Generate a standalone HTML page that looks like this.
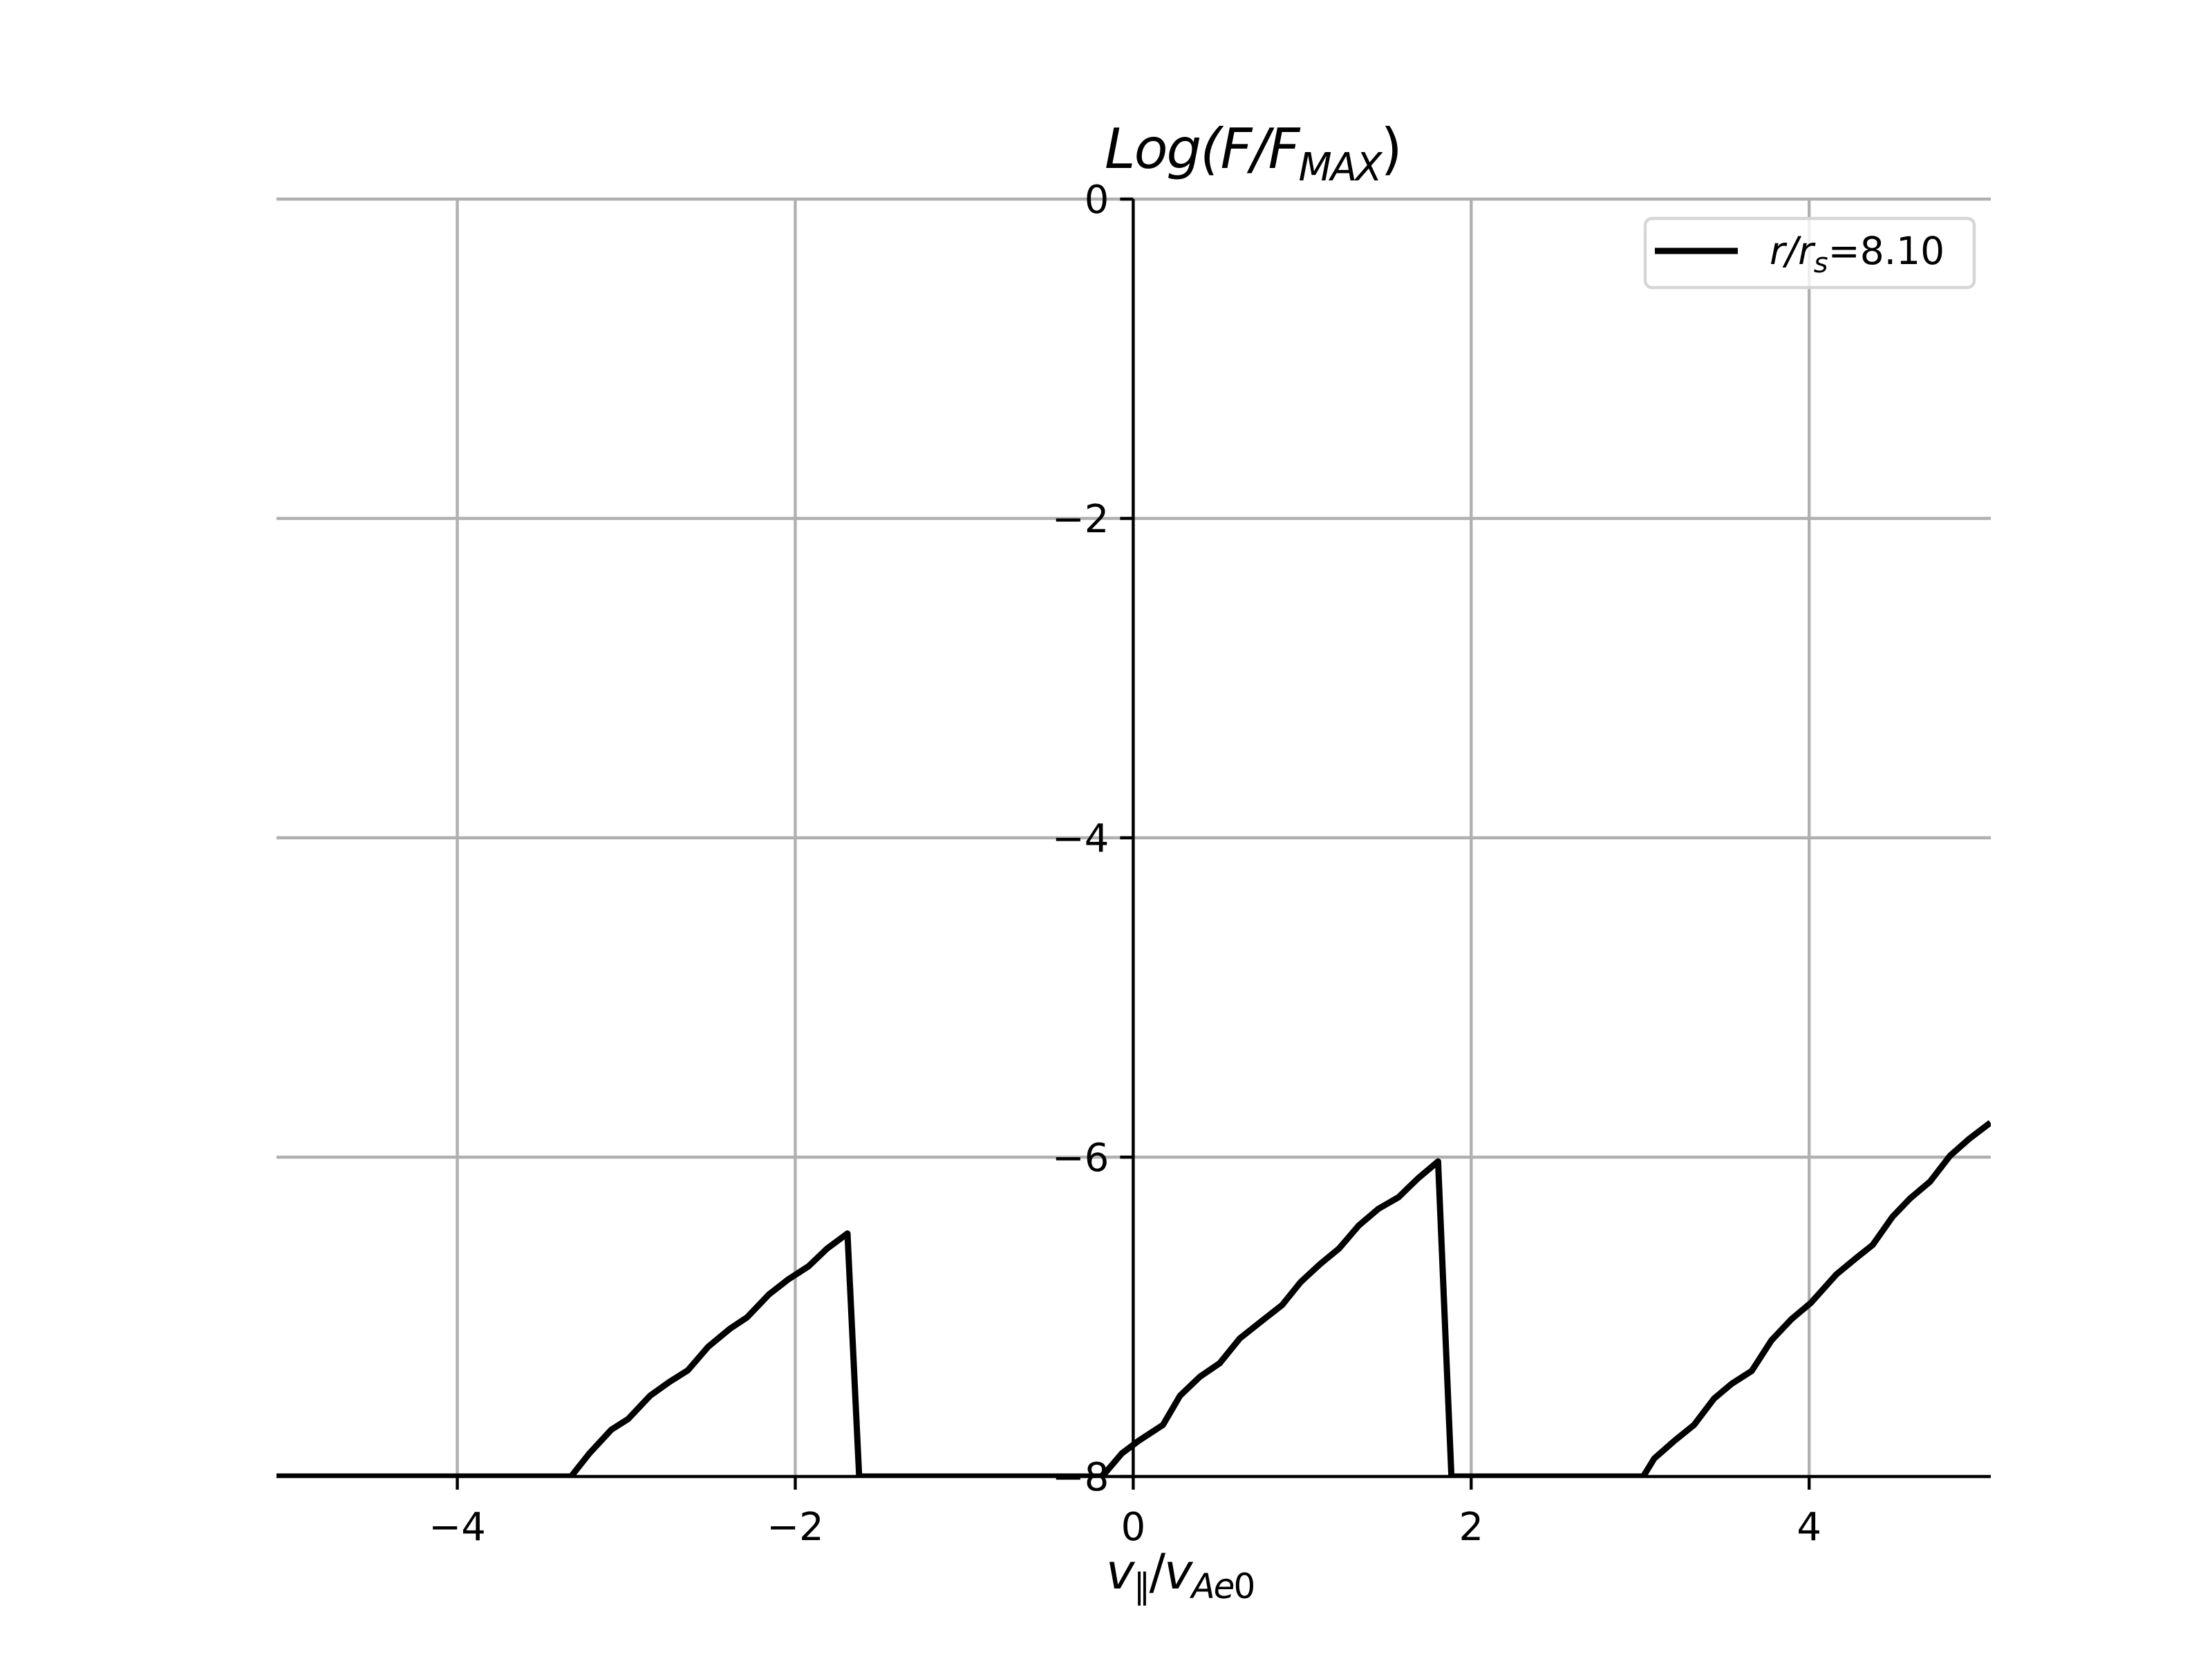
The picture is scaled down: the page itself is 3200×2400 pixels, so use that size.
<!DOCTYPE html>
<html><head><meta charset="utf-8"><style>
html,body{margin:0;padding:0;background:#fff;}
svg{display:block;font-family:"DejaVu Sans","Liberation Sans",sans-serif;}
</style></head><body>
<svg id="chart" width="3200" height="2400" viewBox="0 0 3200 2400" xmlns="http://www.w3.org/2000/svg">
<rect width="3200" height="2400" fill="#fff"/>
<defs><clipPath id="plotclip"><rect x="400" y="288" width="2480" height="1848"/></clipPath></defs>
<g id="grid"></g>
<g id="series" clip-path="url(#plotclip)"></g>
<g id="axes"></g>
<text x="1598" y="243" font-size="80" font-style="italic" letter-spacing="-2">Log(F/F<tspan font-size="56" dy="18">MAX</tspan><tspan dy="-18" font-style="normal">)</tspan></text>
<text x="1600" y="2298" font-size="70" font-style="italic" letter-spacing="-2">v<tspan font-style="normal" font-size="50" dy="14">∥</tspan><tspan dy="-14" font-style="normal">/</tspan>v<tspan font-size="50" dy="14">Ae</tspan><tspan font-size="50" font-style="normal">0</tspan></text>
<g>
<rect x="2380" y="316" width="476" height="100" rx="10" fill="#fff" fill-opacity="0.8" stroke="#d6d6d6" stroke-width="4.4"/>
<line x1="2394" y1="363" x2="2514" y2="363" stroke="#000" stroke-width="9"/>
<text x="2560" y="382" font-size="55"><tspan font-style="italic">r/r</tspan><tspan font-style="italic" font-size="40" dy="12">s</tspan><tspan dy="-12">=8.10</tspan></text>
</g>
</svg>
<script>
const xTicks = [-4, -2, 0, 2, 4];
const yTicks = [0, -2, -4, -6, -8];
const xTickLabels = ["\u22124", "\u22122", "0", "2", "4"];
const yTickLabels = ["0", "\u22122", "\u22124", "\u22126", "\u22128"];
const xs = [-5.1, -3.327, -3.218, -3.089, -2.989, -2.859, -2.745, -2.636, -2.515, -2.386, -2.285, -2.156, -2.041, -1.921, -1.812, -1.691, -1.622,
  -0.184, -0.067, 0.031, 0.176, 0.277, 0.395, 0.512, 0.630, 0.748, 0.881, 0.990, 1.108, 1.217, 1.334, 1.452, 1.569, 1.687, 1.804, 1.883,
  3.018, 3.084, 3.202, 3.319, 3.437, 3.542, 3.660, 3.777, 3.895, 4.012, 4.161, 4.278, 4.376, 4.493, 4.599, 4.716, 4.834, 4.944, 5.073];
const ys = [-8, -8, -7.855, -7.707, -7.640, -7.494, -7.408, -7.335, -7.187, -7.074, -7.003, -6.860, -6.765, -6.683, -6.573, -6.478, -8,
  -8, -7.855, -7.777, -7.677, -7.494, -7.375, -7.290, -7.136, -7.037, -6.926, -6.783, -6.668, -6.573, -6.429, -6.323, -6.252, -6.131, -6.027, -8,
  -8, -7.886, -7.777, -7.677, -7.512, -7.419, -7.339, -7.147, -7.015, -6.911, -6.734, -6.632, -6.550, -6.374, -6.257, -6.153, -5.991, -5.888, -5.784];

const X0 = 400, X1 = 2880, Y0 = 288, Y1 = 2136;
const xmin = -5.07, xmax = 5.075, ymin = -8, ymax = 0;
function sx(v){ return X0 + (v - xmin) / (xmax - xmin) * (X1 - X0); }
function sy(v){ return Y1 - (v - ymin) / (ymax - ymin) * (Y1 - Y0); }
const NS = "http://www.w3.org/2000/svg";
function mk(tag, attrs, parent){
  const e = document.createElementNS(NS, tag);
  for (const k in attrs) e.setAttribute(k, attrs[k]);
  parent.appendChild(e);
  return e;
}
const grid = document.getElementById('grid');
const axes = document.getElementById('axes');
const series = document.getElementById('series');

xTicks.forEach((t, i) => {
  const g = mk('line', {x1: sx(t), x2: sx(t), y1: Y0, y2: Y1, stroke: '#b0b0b0', 'stroke-width': 4.4}, grid);
  
  
  const tk = mk('line', {x1: sx(t), x2: sx(t), y1: Y1, y2: Y1 + 19, stroke: '#000', 'stroke-width': 4.4}, axes);
  
  
  const lb = mk('text', {x: sx(t), y: 2228, 'font-size': 56, 'text-anchor': 'middle'}, axes);
  lb.textContent = xTickLabels[i];
  
  
});
yTicks.forEach((t, i) => {
  const g = mk('line', {x1: X0, x2: X1, y1: sy(t), y2: sy(t), stroke: '#b0b0b0', 'stroke-width': 4.4}, grid);
  
  
  const tk = mk('line', {x1: sx(0) - 19, x2: sx(0), y1: sy(t), y2: sy(t), stroke: '#000', 'stroke-width': 4.4}, axes);
  
  
  const lb = mk('text', {x: sx(0) - 35, y: sy(t) + 20, 'font-size': 56, 'text-anchor': 'end'}, axes);
  lb.textContent = yTickLabels[i];
  
  
});
const ls = mk('line', {x1: sx(0), x2: sx(0), y1: Y0, y2: Y1, stroke: '#000', 'stroke-width': 4.4}, axes);


const bs = mk('line', {x1: X0, x2: X1, y1: Y1, y2: Y1, stroke: '#000', 'stroke-width': 4.4}, axes);



const pts = xs.map((x, i) => sx(x).toFixed(1) + ',' + sy(ys[i]).toFixed(1)).join(' ');
const pl = mk('polyline', {points: pts, fill: 'none', stroke: '#000', 'stroke-width': 9, 'stroke-linejoin': 'round'}, series);


</script>
</body></html>
